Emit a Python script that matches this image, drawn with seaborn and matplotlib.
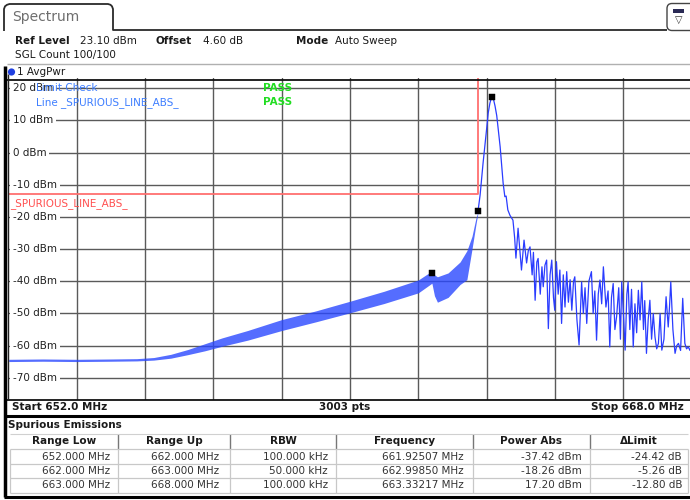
import numpy as np
import pandas as pd
import matplotlib
matplotlib.use("Agg")
import matplotlib.pyplot as plt
import matplotlib.transforms as mtrans
from matplotlib.lines import Line2D
from matplotlib.patches import FancyBboxPatch, Circle
import seaborn as sns

# ---------------- data ----------------
start_mhz, stop_mhz = 652.0, 668.0
ref_level, range_db = 23.1, 100.0
y_ticks = [20, 10, 0, -10, -20, -30, -40, -50, -60, -70]
y_tick_labels = [f"{v} dBm" for v in y_ticks]

# noisy band (upper / lower envelope) left of the carrier
band_freq = [652.0, 652.8, 653.6, 654.4, 655.0, 655.4, 655.8, 656.2, 656.6, 657.0,
             657.6, 658.4, 659.2, 660.0, 660.8, 661.6, 661.92, 661.98, 662.05, 662.3,
             662.58, 662.74, 662.86, 662.95, 663.0]
band_upper = [-64.25, -64.15, -64.25, -64.15, -64.05, -63.7, -62.7, -61.2, -59.4, -57.6,
              -55.3, -51.9, -49.2, -46.2, -43.1, -39.6, -36.8, -38.0, -38.6, -37.4,
              -34.0, -30.5, -26.0, -20.5, -18.3]
band_lower = [-64.95, -64.85, -64.95, -64.85, -64.75, -64.5, -63.9, -62.8, -61.6, -60.2,
              -58.3, -55.3, -52.6, -49.8, -46.9, -43.6, -40.6, -44.5, -46.5, -45.0,
              -41.0, -39.5, -30.0, -22.5, -18.7]

# carrier and spurious spikes to the right
trace_freq = [663.0, 663.05, 663.12, 663.20, 663.24, 663.28, 663.31, 663.33, 663.36,
              663.40, 663.44, 663.52, 663.59, 663.63, 663.66, 663.70, 663.75,
              663.82, 663.86, 663.89, 663.94, 663.98, 664.02, 664.08, 664.14, 664.18,
              664.22, 664.27, 664.30, 664.34, 664.38, 664.41, 664.46, 664.50, 664.53,
              664.57, 664.61, 664.65, 664.69, 664.73, 664.77, 664.80, 664.84, 664.88,
              664.92, 664.96, 665.00, 665.04, 665.08, 665.12, 665.16, 665.20, 665.24,
              665.27, 665.32, 665.37, 665.43, 665.47, 665.51, 665.55, 665.60, 665.66,
              665.70, 665.74, 665.78, 665.82, 665.86, 665.90, 665.94, 666.00, 666.05,
              666.09, 666.13, 666.17, 666.21, 666.25, 666.30, 666.34, 666.37, 666.41,
              666.45, 666.49, 666.52, 666.56, 666.60, 666.64, 666.68, 666.72, 666.76,
              666.80, 666.84, 666.88, 666.91, 666.95, 666.99, 667.03, 667.07, 667.11,
              667.15, 667.19, 667.23, 667.27, 667.31, 667.36, 667.41, 667.46, 667.49,
              667.52, 667.57, 667.62, 667.66, 667.70, 667.75, 667.80, 667.85, 667.89,
              667.93, 667.97, 668.0]
trace_level = [-18.3, -13.2, -3.2, 7.0, 12.3, 15.4, 16.8, 17.2, 16.8,
               14.5, 11.5, 1.8, -9.5, -13.7, -13.5, -17.8, -19.5,
               -21.0, -26.5, -32.8, -23.5, -30.0, -36.5, -27.2, -34.3, -30.5,
               -29.3, -38.0, -31.0, -45.9, -34.0, -32.9, -44.0, -35.5, -41.7,
               -35.0, -33.4, -54.7, -38.0, -33.4, -45.0, -49.0, -33.9, -44.0,
               -36.5, -53.1, -38.0, -48.0, -37.0, -46.5, -39.5, -49.0, -40.0,
               -38.6, -52.0, -59.8, -40.2, -50.0, -42.0, -53.1, -40.0, -37.0,
               -50.0, -43.0, -58.3, -44.0, -39.6, -47.0, -35.5, -48.0, -43.0,
               -60.4, -45.0, -40.7, -55.0, -51.0, -42.0, -58.0, -40.2, -50.0,
               -61.4, -44.0, -40.2, -55.0, -42.5, -60.4, -47.0, -56.0, -42.8,
               -52.0, -40.2, -55.0, -46.0, -62.4, -52.0, -45.9, -58.0, -50.0,
               -57.3, -61.0, -59.3, -50.0, -61.4, -58.0, -44.8, -54.2, -48.0,
               -40.2, -55.0, -62.4, -60.0, -59.3, -61.5, -45.3, -59.3, -61.0,
               -60.4, -61.5, -60.0]

limit_freq = [652.0, 663.0, 663.0, 668.0]
limit_level = [-13.0, -13.0, 30.0, 30.0]

marker_freq = [661.92507, 662.99850, 663.33217]
marker_level = [-37.42, -18.26, 17.20]

tbl_headers = ["Range Low", "Range Up", "RBW", "Frequency", "Power Abs", "\u0394Limit"]
tbl_range_low = ["652.000 MHz", "662.000 MHz", "663.000 MHz"]
tbl_range_up = ["662.000 MHz", "663.000 MHz", "668.000 MHz"]
tbl_rbw = ["100.000 kHz", "50.000 kHz", "100.000 kHz"]
tbl_freq = ["661.92507 MHz", "662.99850 MHz", "663.33217 MHz"]
tbl_power = ["-37.42 dBm", "-18.26 dBm", "17.20 dBm"]
tbl_dlimit = ["-24.42 dB", "-5.26 dB", "-12.80 dB"]

# ---------------- figure ----------------
sns.set_style("white")
plt.rcParams['font.family'] = ['DejaVu Sans']

W, H = 690, 500
fig = plt.figure(figsize=(W / 100, H / 100), dpi=100)
fig.patch.set_facecolor("white")
T = mtrans.Affine2D().scale(1.0 / W, -1.0 / H).translate(0, 1) + fig.transFigure

FS = 7.5
TXT = "#1a1a1a"


def line(xs, ys, color="black", lw=1.0, z=5):
    fig.add_artist(Line2D(xs, ys, transform=T, color=color, lw=lw, zorder=z,
                          solid_capstyle="butt"))


def text(x, y, s, **kw):
    kw.setdefault("fontsize", FS)
    kw.setdefault("color", TXT)
    kw.setdefault("va", "center")
    fig.text(x, y, s, transform=T, **kw)


# tab "Spectrum"
line([4, 4, 5, 7, 9.5, 108, 110.5, 112, 113, 113, 667],
     [31, 9, 6.3, 4.8, 4, 4, 4.8, 6.3, 9, 30, 30], color="#2a2a2a", lw=1.3)
text(12, 17, "Spectrum", fontsize=10, color="#6e6e6e")
# top-right icon
fig.add_artist(FancyBboxPatch((667, 3.5), 30, 27, boxstyle="round,pad=0,rounding_size=5",
                              transform=T, facecolor="white", edgecolor="#444444", lw=1.0))
fig.add_artist(FancyBboxPatch((673, 8.5), 11, 4, boxstyle="square,pad=0", transform=T,
                              facecolor="#2a2a55", edgecolor="none"))
text(678.5, 20, "\u25bd", fontsize=7, ha="center", color="#333333")

# header texts
text(15, 41, "Ref Level", fontweight="bold")
text(80, 41, "23.10 dBm")
text(156, 41, "Offset", fontweight="bold")
text(203, 41, "4.60 dB")
text(296, 41, "Mode", fontweight="bold")
text(335, 41, "Auto Sweep")
text(15, 55, "SGL Count 100/100")
line([7, 690], [63.5, 63.5], color="#b0b0b0", lw=1.0)
fig.add_artist(Circle((11.5, 72), 3.6, transform=T, facecolor="#1f3fe0", edgecolor="none"))
text(17, 72, "1 AvgPwr")

# ---------------- diagram ----------------
ax_left, ax_right = 8.75, 691.25
ax_top, ax_bottom = 78.3, 400.0
ax = fig.add_axes([ax_left / W, 1 - ax_bottom / H, (ax_right - ax_left) / W,
                   (ax_bottom - ax_top) / H])
ax.set_xlim(start_mhz, stop_mhz)
ax.set_ylim(ref_level - range_db, ref_level)
ax.set_facecolor("white")
for s in ax.spines.values():
    s.set_visible(False)
ax.set_xticks(np.linspace(start_mhz, stop_mhz, 11)[1:-1])
ax.set_yticks(y_ticks)
ax.tick_params(length=0, labelbottom=False, labelleft=False)
ax.grid(True, color="#5a5a5a", lw=1.0, zorder=1)
ax.set_axisbelow(True)

# limit line
sns.lineplot(x=limit_freq, y=limit_level, ax=ax, color="#ff7070", lw=1.3,
             sort=False, estimator=None, zorder=3)

# trace: noisy band + carrier / spurs
ax.fill_between(band_freq, band_lower, band_upper, color="#2a48ff", alpha=0.8,
                lw=0, zorder=4)
sns.lineplot(x=trace_freq, y=trace_level, ax=ax, color="#2a3cff", lw=0.9,
             sort=False, estimator=None, zorder=4)
ax.set_xlabel("")
ax.set_ylabel("")

# markers
sns.scatterplot(x=marker_freq, y=marker_level, ax=ax, marker="s", s=16,
                color="black", edgecolor="black", zorder=6)

# y labels inside plot
for v, lab in zip(y_ticks, y_tick_labels):
    ax.text(652.09, v, lab, ha="left", va="center", fontsize=FS, color="#222222",
            zorder=2, bbox=dict(facecolor="white", edgecolor="none", pad=2.2))

# limit texts
ax.text(652.65, 20.2, "Limit Check", ha="left", va="center", fontsize=FS,
        color="#3f7fff", zorder=5)
ax.text(652.65, 15.6, "Line _SPURIOUS_LINE_ABS_", ha="left", va="center",
        fontsize=FS, color="#3f7fff", zorder=5)
ax.text(657.97, 20.2, "PASS", ha="left", va="center", fontsize=FS,
        color="#22dd22", fontweight="bold", zorder=5)
ax.text(657.97, 15.6, "PASS", ha="left", va="center", fontsize=FS,
        color="#22dd22", fontweight="bold", zorder=5)
ax.text(652.03, -15.9, "_SPURIOUS_LINE_ABS_", ha="left", va="center",
        fontsize=FS, color="#ff5050", zorder=5)

# frame lines
line([7, 690], [79.5, 79.5], color="#111111", lw=1.3)
line([7, 690], [400, 400], color="#111111", lw=1.3)
line([5.0, 5.0], [66, 497], color="#000000", lw=2.5)
line([8.0, 8.0], [74, 400], color="#222222", lw=1.0)

# bottom bar
text(12, 407.5, "Start 652.0 MHz", fontweight="bold")
text(345, 407.5, "3003 pts", fontweight="bold", ha="center")
text(684, 407.5, "Stop 668.0 MHz", fontweight="bold", ha="right")
line([4, 690], [415.5, 415.5], color="#000000", lw=2.2)

# ---------------- table ----------------
text(8, 425, "Spurious Emissions", fontweight="bold")
col_edges = [10, 118, 230, 336, 473, 590, 688]
col_right = [110, 219, 328, 464, 582, 682]
row_y = [456.5, 471, 485.5]
row_lines = [449, 464, 478, 493]
for i, h in enumerate(tbl_headers):
    text((col_edges[i] + col_edges[i + 1]) / 2, 441.5, h, fontweight="bold", ha="center")
for xe in col_edges[1:-1]:
    line([xe, xe], [434, 449], color="#777777", lw=1.0)
line([10, 688], [433.5, 433.5], color="#d0d0d0", lw=0.8)
for yl in row_lines:
    line([10, 688], [yl, yl], color="#c8c8c8", lw=0.9)
for xe in col_edges:
    line([xe, xe], [449, 493], color="#c8c8c8", lw=0.9)
columns = [tbl_range_low, tbl_range_up, tbl_rbw, tbl_freq, tbl_power, tbl_dlimit]
for c, vals in enumerate(columns):
    for r, v in enumerate(vals):
        text(col_right[c], row_y[r], v, ha="right", color="#333333")
line([4, 690], [496.5, 496.5], color="#000000", lw=2.2)

fig.savefig("out.png", dpi=100, facecolor="white")
